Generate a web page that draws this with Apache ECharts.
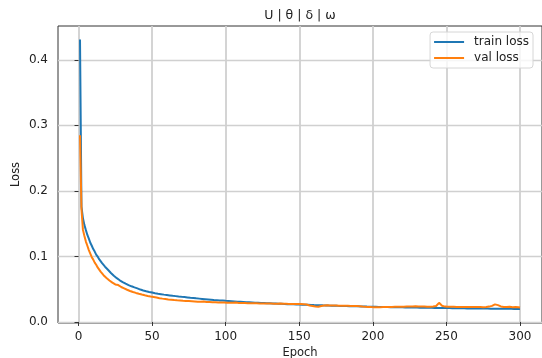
<!DOCTYPE html>
<html>
<head>
<meta charset="utf-8">
<script src="https://cdn.jsdelivr.net/npm/echarts@6/dist/echarts.min.js"></script>
<style>
  html, body { margin: 0; padding: 0; background: #fff; }
  #chart { width: 542px; height: 358px; }
</style>
</head>
<body>
<div id="chart"></div>
<script>
  // loss per epoch (epoch 1..300)
  const trainLoss = [
    0.4310, 0.1760, 0.1582, 0.1478, 0.1401, 0.1328, 0.1271, 0.1209, 0.1163, 0.1112,
    0.1074, 0.1028, 0.0997, 0.0958, 0.0932, 0.0897, 0.0873, 0.0843, 0.0823, 0.0796,
    0.0772, 0.0747, 0.0729, 0.0704, 0.0690, 0.0668, 0.0656, 0.0636, 0.0627, 0.0609,
    0.0601, 0.0585, 0.0577, 0.0563, 0.0557, 0.0544, 0.0540, 0.0527, 0.0523, 0.0512,
    0.0507, 0.0494, 0.0492, 0.0480, 0.0479, 0.0468, 0.0468, 0.0457, 0.0457, 0.0448,
    0.0449, 0.0439, 0.0442, 0.0431, 0.0434, 0.0424, 0.0427, 0.0417, 0.0420, 0.0411,
    0.0414, 0.0405, 0.0408, 0.0399, 0.0402, 0.0394, 0.0397, 0.0388, 0.0392, 0.0383,
    0.0386, 0.0379, 0.0380, 0.0374, 0.0376, 0.0369, 0.0371, 0.0365, 0.0367, 0.0360,
    0.0363, 0.0356, 0.0358, 0.0352, 0.0354, 0.0348, 0.0350, 0.0344, 0.0346, 0.0340,
    0.0343, 0.0336, 0.0339, 0.0333, 0.0335, 0.0329, 0.0332, 0.0326, 0.0328, 0.0322,
    0.0325, 0.0319, 0.0322, 0.0316, 0.0319, 0.0313, 0.0316, 0.0310, 0.0313, 0.0307,
    0.0310, 0.0304, 0.0308, 0.0301, 0.0305, 0.0299, 0.0302, 0.0297, 0.0300, 0.0294,
    0.0298, 0.0292, 0.0295, 0.0290, 0.0293, 0.0288, 0.0291, 0.0285, 0.0289, 0.0284,
    0.0287, 0.0282, 0.0285, 0.0280, 0.0283, 0.0278, 0.0281, 0.0276, 0.0279, 0.0274,
    0.0277, 0.0272, 0.0276, 0.0270, 0.0274, 0.0269, 0.0272, 0.0267, 0.0271, 0.0265,
    0.0269, 0.0264, 0.0268, 0.0262, 0.0266, 0.0261, 0.0265, 0.0259, 0.0263, 0.0257,
    0.0262, 0.0256, 0.0260, 0.0255, 0.0259, 0.0253, 0.0257, 0.0252, 0.0256, 0.0250,
    0.0255, 0.0249, 0.0253, 0.0248, 0.0252, 0.0246, 0.0251, 0.0245, 0.0249, 0.0244,
    0.0248, 0.0243, 0.0247, 0.0241, 0.0246, 0.0240, 0.0245, 0.0239, 0.0243, 0.0238,
    0.0242, 0.0237, 0.0241, 0.0236, 0.0240, 0.0234, 0.0239, 0.0233, 0.0238, 0.0232,
    0.0237, 0.0231, 0.0236, 0.0230, 0.0235, 0.0229, 0.0234, 0.0228, 0.0233, 0.0227,
    0.0232, 0.0226, 0.0231, 0.0225, 0.0230, 0.0225, 0.0229, 0.0224, 0.0228, 0.0223,
    0.0227, 0.0222, 0.0226, 0.0221, 0.0225, 0.0220, 0.0225, 0.0219, 0.0224, 0.0219,
    0.0223, 0.0218, 0.0222, 0.0217, 0.0222, 0.0216, 0.0221, 0.0216, 0.0220, 0.0215,
    0.0220, 0.0214, 0.0219, 0.0214, 0.0218, 0.0213, 0.0218, 0.0212, 0.0217, 0.0212,
    0.0216, 0.0211, 0.0216, 0.0210, 0.0215, 0.0210, 0.0214, 0.0209, 0.0214, 0.0209,
    0.0213, 0.0208, 0.0213, 0.0207, 0.0212, 0.0207, 0.0212, 0.0206, 0.0211, 0.0206,
    0.0210, 0.0205, 0.0210, 0.0205, 0.0209, 0.0204, 0.0209, 0.0204, 0.0208, 0.0203,
    0.0208, 0.0203, 0.0207, 0.0202, 0.0207, 0.0202, 0.0206, 0.0201, 0.0206, 0.0201,
    0.0205, 0.0200, 0.0205, 0.0200, 0.0204, 0.0199, 0.0204, 0.0199, 0.0203, 0.0198
  ];
  const valLoss = [
    0.2850, 0.1720, 0.1405, 0.1312, 0.1226, 0.1163, 0.1097, 0.1043, 0.0988, 0.0951,
    0.0906, 0.0873, 0.0832, 0.0802, 0.0768, 0.0747, 0.0714, 0.0698, 0.0672, 0.0658,
    0.0633, 0.0624, 0.0600, 0.0594, 0.0572, 0.0569, 0.0563, 0.0541, 0.0533, 0.0516,
    0.0512, 0.0495, 0.0491, 0.0475, 0.0473, 0.0458, 0.0457, 0.0442, 0.0443, 0.0428,
    0.0430, 0.0415, 0.0418, 0.0404, 0.0407, 0.0394, 0.0397, 0.0385, 0.0388, 0.0376,
    0.0380, 0.0367, 0.0372, 0.0358, 0.0363, 0.0351, 0.0356, 0.0344, 0.0350, 0.0338,
    0.0344, 0.0333, 0.0339, 0.0328, 0.0334, 0.0323, 0.0330, 0.0319, 0.0327, 0.0315,
    0.0323, 0.0312, 0.0320, 0.0309, 0.0318, 0.0305, 0.0316, 0.0303, 0.0313, 0.0301,
    0.0310, 0.0299, 0.0308, 0.0296, 0.0312, 0.0301, 0.0305, 0.0294, 0.0303, 0.0292,
    0.0301, 0.0290, 0.0300, 0.0289, 0.0298, 0.0287, 0.0297, 0.0286, 0.0296, 0.0285,
    0.0294, 0.0284, 0.0293, 0.0283, 0.0292, 0.0282, 0.0296, 0.0283, 0.0290, 0.0280,
    0.0289, 0.0279, 0.0288, 0.0278, 0.0287, 0.0277, 0.0286, 0.0276, 0.0285, 0.0275,
    0.0284, 0.0274, 0.0283, 0.0279, 0.0282, 0.0273, 0.0281, 0.0272, 0.0281, 0.0271,
    0.0280, 0.0270, 0.0279, 0.0270, 0.0278, 0.0269, 0.0283, 0.0272, 0.0277, 0.0268,
    0.0276, 0.0267, 0.0275, 0.0266, 0.0275, 0.0266, 0.0274, 0.0265, 0.0273, 0.0264,
    0.0273, 0.0264, 0.0272, 0.0262, 0.0266, 0.0255, 0.0252, 0.0244, 0.0245, 0.0236,
    0.0236, 0.0229, 0.0233, 0.0234, 0.0243, 0.0240, 0.0251, 0.0244, 0.0253, 0.0245,
    0.0252, 0.0244, 0.0251, 0.0243, 0.0250, 0.0242, 0.0249, 0.0241, 0.0248, 0.0240,
    0.0247, 0.0239, 0.0246, 0.0238, 0.0245, 0.0237, 0.0244, 0.0236, 0.0243, 0.0234,
    0.0240, 0.0231, 0.0235, 0.0227, 0.0231, 0.0224, 0.0229, 0.0220, 0.0227, 0.0219,
    0.0226, 0.0218, 0.0225, 0.0218, 0.0226, 0.0219, 0.0227, 0.0220, 0.0228, 0.0221,
    0.0229, 0.0222, 0.0230, 0.0223, 0.0231, 0.0224, 0.0232, 0.0225, 0.0232, 0.0226,
    0.0233, 0.0226, 0.0234, 0.0227, 0.0234, 0.0228, 0.0236, 0.0229, 0.0240, 0.0230,
    0.0235, 0.0227, 0.0234, 0.0226, 0.0234, 0.0227, 0.0233, 0.0226, 0.0233, 0.0227,
    0.0235, 0.0231, 0.0243, 0.0262, 0.0292, 0.0266, 0.0247, 0.0233, 0.0234, 0.0226,
    0.0232, 0.0225, 0.0232, 0.0224, 0.0231, 0.0225, 0.0230, 0.0224, 0.0230, 0.0223,
    0.0229, 0.0222, 0.0229, 0.0223, 0.0228, 0.0221, 0.0228, 0.0222, 0.0227, 0.0221,
    0.0228, 0.0220, 0.0227, 0.0221, 0.0226, 0.0222, 0.0229, 0.0227, 0.0234, 0.0236,
    0.0245, 0.0254, 0.0268, 0.0271, 0.0257, 0.0243, 0.0237, 0.0228, 0.0229, 0.0222,
    0.0227, 0.0224, 0.0233, 0.0226, 0.0225, 0.0219, 0.0228, 0.0221, 0.0224, 0.0220
  ];
  const xTicks = [0, 50, 100, 150, 200, 250, 300];
  const yTicks = [0, 0.1, 0.2, 0.3, 0.4];
  const seriesNames = ['train loss', 'val loss'];
  const colors = ['#1f77b4', '#ff7f0e'];

  const font = 'DejaVu Sans';
  const toPairs = arr => arr.map((v, i) => [i + 1, v]);

  const option = {
    animation: false,
    title: {
      text: 'U | θ | δ | ω',
      left: 300,
      top: 9,
      textAlign: 'center',
      padding: 0,
      textStyle: { fontFamily: font, fontSize: 12.5, fontWeight: 'normal', color: '#222' }
    },
    legend: {
      data: seriesNames,
      orient: 'vertical',
      right: 9,
      top: 32,
      padding: [3, 4, 3, 4],
      itemGap: 2,
      itemWidth: 30,
      itemHeight: 2,
      icon: 'rect',
      borderColor: '#d6d6d6',
      borderWidth: 1,
      borderRadius: 3,
      backgroundColor: 'rgba(255,255,255,0.8)',
      textStyle: { fontFamily: font, fontSize: 12, color: '#222', lineHeight: 14, padding: [0, 0, 0, 5] }
    },
    grid: {
      left: 58,
      right: 0,
      top: 26,
      bottom: 35,
      outerBoundsMode: 'none',
      containLabel: false,
      show: true,
      borderColor: '#333',
      borderWidth: 1
    },
    xAxis: {
      type: 'value',
      min: -13.95,
      max: 314.95,
      name: 'Epoch',
      nameLocation: 'middle',
      nameGap: 24,
      nameMoveOverlap: false,
      nameTextStyle: { fontFamily: font, fontSize: 11.5, color: '#222' },
      axisLine: { show: false },
      axisTick: { show: true, length: 4, customValues: xTicks, lineStyle: { color: '#333' } },
      axisLabel: { customValues: xTicks, margin: 8, fontFamily: font, fontSize: 12, color: '#222' },
      splitLine: { show: true, lineStyle: { color: '#d0d0d0', width: 1.8 } }
    },
    yAxis: {
      type: 'value',
      min: -0.0016,
      max: 0.4516,
      name: 'Loss',
      nameLocation: 'middle',
      nameGap: 36,
      nameMoveOverlap: false,
      nameTextStyle: { fontFamily: font, fontSize: 11.5, color: '#222' },
      axisLine: { show: false },
      axisTick: { show: true, length: 4, customValues: yTicks, lineStyle: { color: '#333' } },
      axisLabel: {
        customValues: yTicks,
        margin: 10,
        fontFamily: font,
        fontSize: 12,
        color: '#222',
        formatter: v => v.toFixed(1)
      },
      splitLine: { show: true, lineStyle: { color: '#d0d0d0', width: 1.4 } }
    },
    series: [
      {
        name: seriesNames[0],
        type: 'line',
        data: toPairs(trainLoss),
        showSymbol: false,
        color: colors[0],
        lineStyle: { width: 2 }
      },
      {
        name: seriesNames[1],
        type: 'line',
        data: toPairs(valLoss),
        showSymbol: false,
        color: colors[1],
        lineStyle: { width: 2 }
      }
    ]
  };

  const chart = echarts.init(document.getElementById('chart'));
  chart.setOption(option);
</script>
</body>
</html>
